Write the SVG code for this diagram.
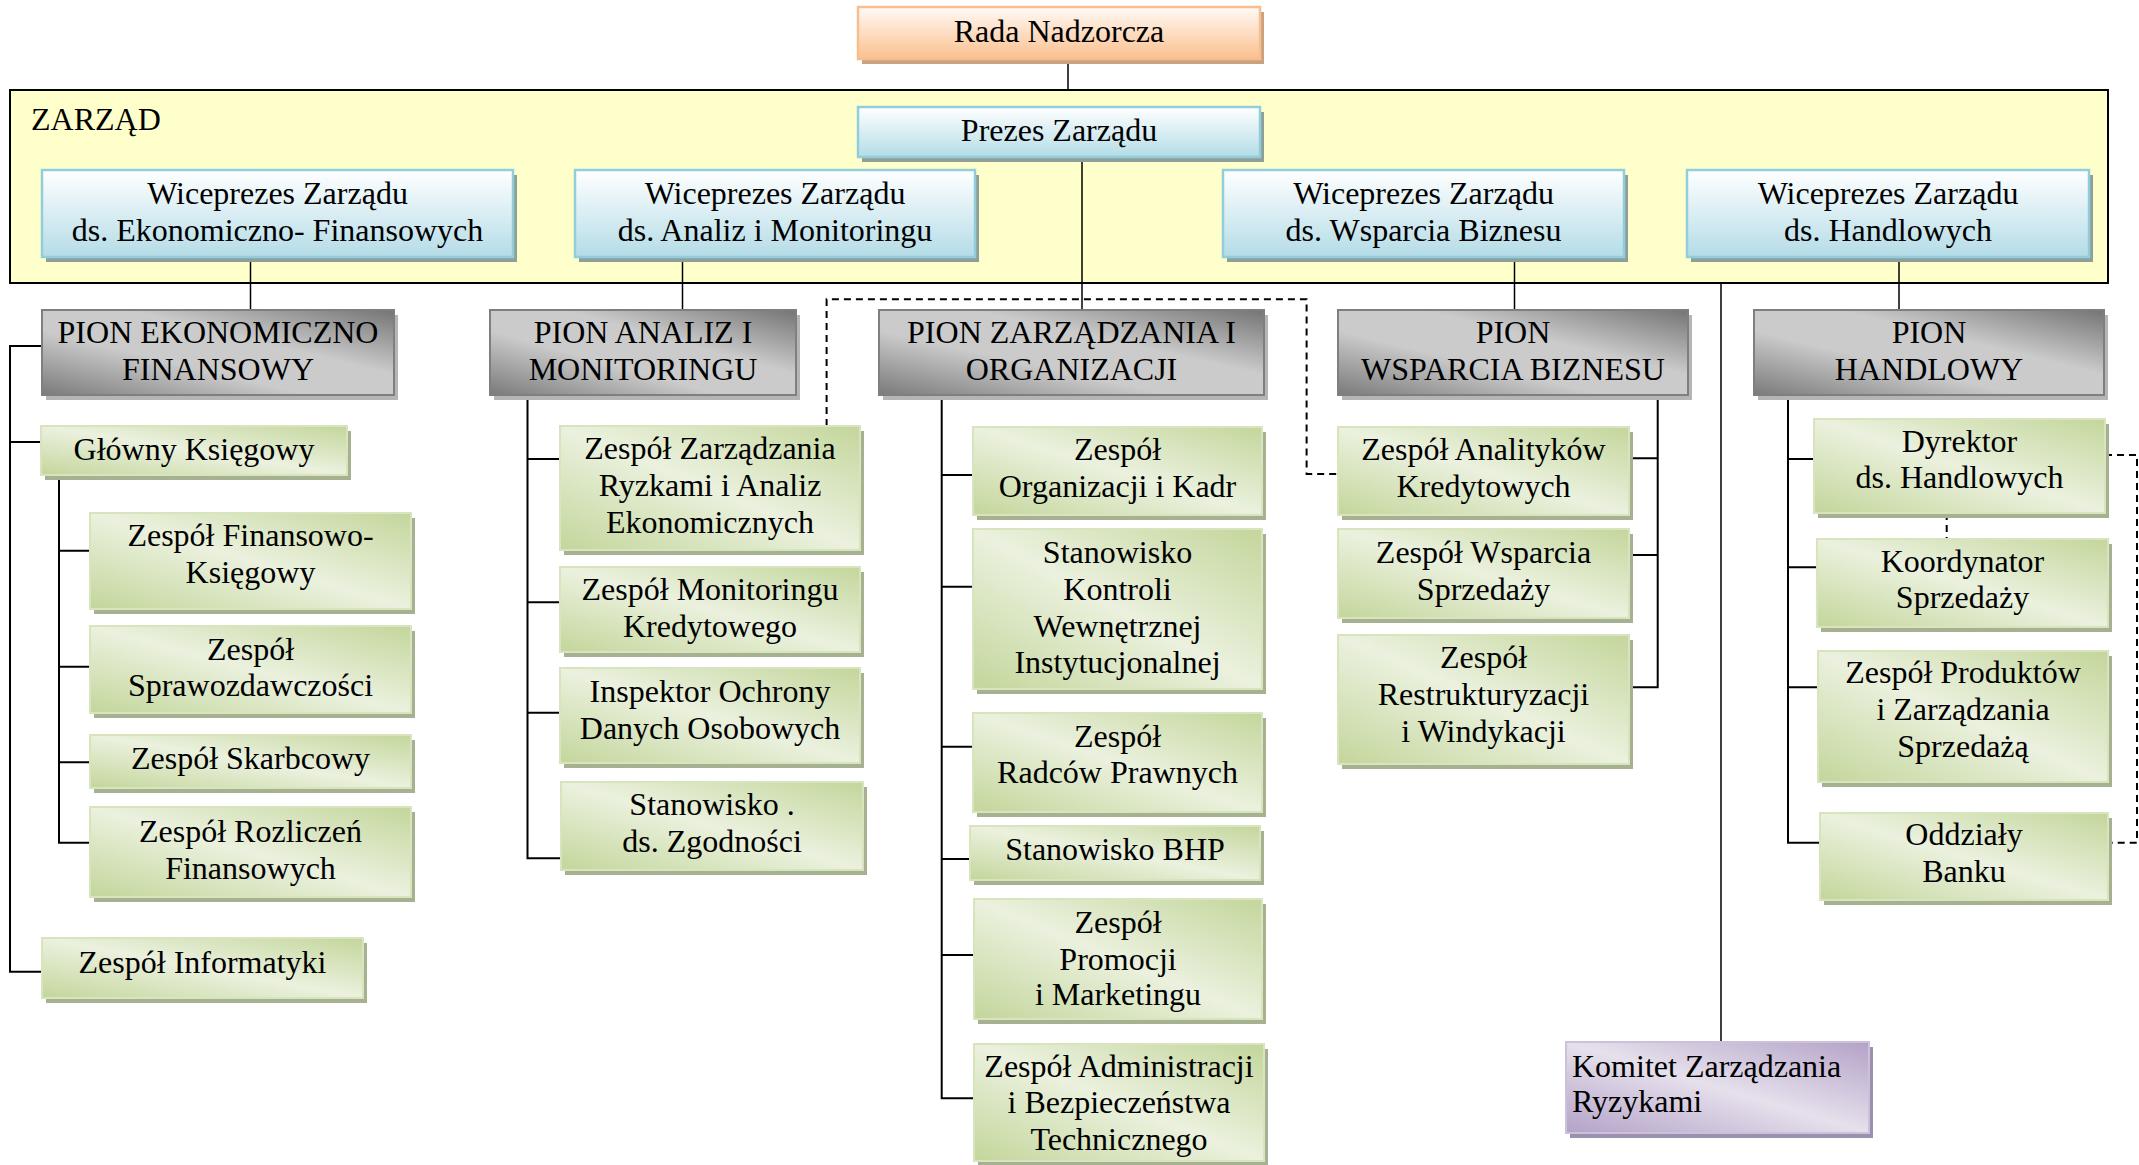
<svg xmlns="http://www.w3.org/2000/svg" width="2139" height="1165" viewBox="0 0 2139 1165">
<defs>
<linearGradient id="gPeach" x1="0" y1="0" x2="0" y2="1"><stop offset="0" stop-color="#fffaf6"/><stop offset="1" stop-color="#fbc08e"/></linearGradient>
<linearGradient id="gBlue" x1="0" y1="0" x2="0" y2="1"><stop offset="0" stop-color="#ffffff"/><stop offset="1" stop-color="#b4dce7"/></linearGradient>
<linearGradient id="gGrey" x1="0" y1="1" x2="1" y2="0"><stop offset="0" stop-color="#7a7a7a"/><stop offset="0.38" stop-color="#cbcbcb"/><stop offset="0.62" stop-color="#cbcbcb"/><stop offset="1" stop-color="#747474"/></linearGradient>
<linearGradient id="gGreen" x1="0" y1="1" x2="1" y2="0"><stop offset="0" stop-color="#c3d69b"/><stop offset="0.5" stop-color="#ebf1de"/><stop offset="1" stop-color="#c3d69b"/></linearGradient>
<linearGradient id="gPurple" x1="0" y1="1" x2="1" y2="0"><stop offset="0" stop-color="#b3a2c7"/><stop offset="0.5" stop-color="#e6e0ec"/><stop offset="1" stop-color="#b3a2c7"/></linearGradient>
</defs>
<style>
text{font-family:"Liberation Serif","Times New Roman",serif;font-size:32px;fill:#000}
.c{text-anchor:middle}
.peach{fill:url(#gPeach);stroke:#f9be90;stroke-width:2.5}
.blue{fill:url(#gBlue);stroke:#92cddc;stroke-width:2.5}
.grey{fill:url(#gGrey);stroke:#7f7f7f;stroke-width:2}
.green{fill:url(#gGreen);stroke:#d7e4bd;stroke-width:2}
.purple{fill:url(#gPurple);stroke:#ccc1da;stroke-width:2}
.shPeach{fill:#c9a27f}
.shBlue{fill:#8e9f9a}
.shGrey{fill:#b5b5b5}
.shGreen{fill:#a6b192}
.shPurple{fill:#9b90ad}
.ln{fill:none;stroke:#000;stroke-width:2}
.thin{fill:none;stroke:#000;stroke-width:1.5}
.dash{fill:none;stroke:#000;stroke-width:2;stroke-dasharray:7 5}
</style>

<g id="zarzad">
<rect x="10" y="90" width="2098" height="193" fill="#ffffcc" stroke="#000" stroke-width="2"/>
<text x="31" y="130">ZARZĄD</text>
</g>

<g id="connectors">
<path class="thin" d="M1068,59 V90"/>
<path class="thin" d="M1082,157 V310"/>
<path class="thin" d="M250.5,262 V310"/>
<path class="thin" d="M682.5,262 V310"/>
<path class="thin" d="M1514.5,262 V310"/>
<path class="thin" d="M1899,262 V310"/>
<path class="thin" d="M1721,283 V1042"/>
<path class="ln" d="M42,346 H10 V971.7 H42 M10,442 H41"/>
<path class="ln" d="M59,475 V842.7 H90 M59,550.7 H90 M59,666.7 H90 M59,762.3 H90"/>
<path class="ln" d="M527.5,395 V858.3 H561 M527.5,459 H560 M527.5,602.3 H560 M527.5,712.7 H560"/>
<path class="ln" d="M941.7,395 V1098.3 H974 M941.7,475 H973 M941.7,586.7 H973 M941.7,746.7 H973 M941.7,859 H970 M941.7,955 H974"/>
<path class="ln" d="M1657.7,395 V687.3 H1629 M1657.7,458.3 H1629 M1657.7,555 H1629"/>
<path class="ln" d="M1788,395 V842.7 H1820 M1788,459 H1814 M1788,567.3 H1817 M1788,687.3 H1818"/>
<path class="dash" d="M826.6,426 V299.3 H1306.6 V474 H1338"/>
<path class="dash" d="M2105,455 H2137 V842.7 H2108"/>
<path class="dash" d="M1946.7,513 V539"/>
</g>

<g id="rada">
<rect class="shPeach" x="862" y="12" width="402" height="52"/>
<rect class="peach" x="858" y="7" width="402" height="52"/>
<text class="c" x="1059" y="42">Rada Nadzorcza</text>
</g>

<g id="prezes">
<rect class="shBlue" x="862" y="112" width="402" height="50"/>
<rect class="blue" x="858" y="107" width="402" height="50"/>
<text class="c" x="1059" y="141">Prezes Zarządu</text>
</g>

<g id="wice1">
<rect class="shBlue" x="46" y="175" width="471" height="87"/>
<rect class="blue" x="42" y="170" width="471" height="87"/>
<text class="c" x="277.5" y="204">Wiceprezes Zarządu</text>
<text class="c" x="277.5" y="241">ds. Ekonomiczno- Finansowych</text>
</g>
<g id="wice2">
<rect class="shBlue" x="579" y="175" width="400" height="87"/>
<rect class="blue" x="575" y="170" width="400" height="87"/>
<text class="c" x="775" y="204">Wiceprezes Zarządu</text>
<text class="c" x="775" y="241">ds. Analiz i Monitoringu</text>
</g>
<g id="wice3">
<rect class="shBlue" x="1227" y="175" width="401" height="87"/>
<rect class="blue" x="1223" y="170" width="401" height="87"/>
<text class="c" x="1423.5" y="204">Wiceprezes Zarządu</text>
<text class="c" x="1423.5" y="241">ds. Wsparcia Biznesu</text>
</g>
<g id="wice4">
<rect class="shBlue" x="1691" y="175" width="402" height="87"/>
<rect class="blue" x="1687" y="170" width="402" height="87"/>
<text class="c" x="1888" y="204">Wiceprezes Zarządu</text>
<text class="c" x="1888" y="241">ds. Handlowych</text>
</g>

<g id="pion-ekon">
<rect class="shGrey" x="46" y="315" width="352" height="85"/>
<rect class="grey" x="42" y="310" width="352" height="85"/>
<text class="c" x="218" y="343">PION EKONOMICZNO</text>
<text class="c" x="218" y="380">FINANSOWY</text>
</g>
<g id="pion-analiz">
<rect class="shGrey" x="494" y="315" width="306" height="85"/>
<rect class="grey" x="490" y="310" width="306" height="85"/>
<text class="c" x="643" y="343">PION ANALIZ I</text>
<text class="c" x="643" y="380">MONITORINGU</text>
</g>
<g id="pion-zarz">
<rect class="shGrey" x="883" y="315" width="385" height="85"/>
<rect class="grey" x="879" y="310" width="385" height="85"/>
<text class="c" x="1071.5" y="343">PION ZARZĄDZANIA I</text>
<text class="c" x="1071.5" y="380">ORGANIZACJI</text>
</g>
<g id="pion-wsp">
<rect class="shGrey" x="1342" y="315" width="350" height="85"/>
<rect class="grey" x="1338" y="310" width="350" height="85"/>
<text class="c" x="1513" y="343">PION</text>
<text class="c" x="1513" y="380">WSPARCIA BIZNESU</text>
</g>
<g id="pion-hand">
<rect class="shGrey" x="1758" y="315" width="350" height="85"/>
<rect class="grey" x="1754" y="310" width="350" height="85"/>
<text class="c" x="1929" y="343">PION</text>
<text class="c" x="1929" y="380">HANDLOWY</text>
</g>

<g id="glowny">
<rect class="shGreen" x="45" y="431" width="306" height="49"/>
<rect class="green" x="41" y="426" width="306" height="49"/>
<text class="c" x="194" y="460">Główny Księgowy</text>
</g>
<g id="fin-ksieg">
<rect class="shGreen" x="94" y="518" width="321" height="96"/>
<rect class="green" x="90" y="513" width="321" height="96"/>
<text class="c" x="250.5" y="546">Zespół Finansowo-</text>
<text class="c" x="250.5" y="583">Księgowy</text>
</g>
<g id="sprawozd">
<rect class="shGreen" x="94" y="631" width="321" height="87"/>
<rect class="green" x="90" y="626" width="321" height="87"/>
<text class="c" x="250.5" y="660">Zespół</text>
<text class="c" x="250.5" y="696">Sprawozdawczości</text>
</g>
<g id="skarbcowy">
<rect class="shGreen" x="94" y="740" width="321" height="53"/>
<rect class="green" x="90" y="735" width="321" height="53"/>
<text class="c" x="250.5" y="769">Zespół Skarbcowy</text>
</g>
<g id="rozliczen">
<rect class="shGreen" x="94" y="812" width="321" height="90"/>
<rect class="green" x="90" y="807" width="321" height="90"/>
<text class="c" x="250.5" y="842">Zespół Rozliczeń</text>
<text class="c" x="250.5" y="879">Finansowych</text>
</g>
<g id="informatyki">
<rect class="shGreen" x="46" y="943" width="321" height="60"/>
<rect class="green" x="42" y="938" width="321" height="60"/>
<text class="c" x="202.5" y="973">Zespół Informatyki</text>
</g>

<g id="ryzkami">
<rect class="shGreen" x="564" y="431" width="300" height="124"/>
<rect class="green" x="560" y="426" width="300" height="124"/>
<text class="c" x="710" y="459">Zespół Zarządzania</text>
<text class="c" x="710" y="496">Ryzkami i Analiz</text>
<text class="c" x="710" y="533">Ekonomicznych</text>
</g>
<g id="monitoringu">
<rect class="shGreen" x="564" y="572" width="300" height="85"/>
<rect class="green" x="560" y="567" width="300" height="85"/>
<text class="c" x="710" y="600">Zespół Monitoringu</text>
<text class="c" x="710" y="637">Kredytowego</text>
</g>
<g id="inspektor">
<rect class="shGreen" x="564" y="673" width="300" height="95"/>
<rect class="green" x="560" y="668" width="300" height="95"/>
<text class="c" x="710" y="702">Inspektor Ochrony</text>
<text class="c" x="710" y="739">Danych Osobowych</text>
</g>
<g id="zgodnosci">
<rect class="shGreen" x="565" y="787" width="302" height="88"/>
<rect class="green" x="561" y="782" width="302" height="88"/>
<text class="c" x="712" y="815">Stanowisko .</text>
<text class="c" x="712" y="852">ds. Zgodności</text>
</g>

<g id="organizacji">
<rect class="shGreen" x="977" y="432" width="289" height="88"/>
<rect class="green" x="973" y="427" width="289" height="88"/>
<text class="c" x="1117.5" y="460">Zespół</text>
<text class="c" x="1117.5" y="497">Organizacji i Kadr</text>
</g>
<g id="kontroli">
<rect class="shGreen" x="977" y="534" width="289" height="160"/>
<rect class="green" x="973" y="529" width="289" height="160"/>
<text class="c" x="1117.5" y="563">Stanowisko</text>
<text class="c" x="1117.5" y="600">Kontroli</text>
<text class="c" x="1117.5" y="637">Wewnętrznej</text>
<text class="c" x="1117.5" y="673">Instytucjonalnej</text>
</g>
<g id="radcow">
<rect class="shGreen" x="977" y="718" width="289" height="99"/>
<rect class="green" x="973" y="713" width="289" height="99"/>
<text class="c" x="1117.5" y="747">Zespół</text>
<text class="c" x="1117.5" y="783">Radców Prawnych</text>
</g>
<g id="bhp">
<rect class="shGreen" x="974" y="831" width="290" height="54"/>
<rect class="green" x="970" y="826" width="290" height="54"/>
<text class="c" x="1115" y="860">Stanowisko BHP</text>
</g>
<g id="promocji">
<rect class="shGreen" x="978" y="904" width="288" height="120"/>
<rect class="green" x="974" y="899" width="288" height="120"/>
<text class="c" x="1118" y="933">Zespół</text>
<text class="c" x="1118" y="970">Promocji</text>
<text class="c" x="1118" y="1005">i Marketingu</text>
</g>
<g id="administracji">
<rect class="shGreen" x="978" y="1049" width="290" height="117"/>
<rect class="green" x="974" y="1044" width="290" height="117"/>
<text class="c" x="1119" y="1077">Zespół Administracji</text>
<text class="c" x="1119" y="1113">i Bezpieczeństwa</text>
<text class="c" x="1119" y="1150">Technicznego</text>
</g>

<g id="analitykow">
<rect class="shGreen" x="1342" y="432" width="291" height="88"/>
<rect class="green" x="1338" y="427" width="291" height="88"/>
<text class="c" x="1483.5" y="460">Zespół Analityków</text>
<text class="c" x="1483.5" y="497">Kredytowych</text>
</g>
<g id="wsparcia-sprzedazy">
<rect class="shGreen" x="1342" y="534" width="291" height="89"/>
<rect class="green" x="1338" y="529" width="291" height="89"/>
<text class="c" x="1483.5" y="563">Zespół Wsparcia</text>
<text class="c" x="1483.5" y="600">Sprzedaży</text>
</g>
<g id="restrukturyzacji">
<rect class="shGreen" x="1342" y="640" width="291" height="129"/>
<rect class="green" x="1338" y="635" width="291" height="129"/>
<text class="c" x="1483.5" y="668">Zespół</text>
<text class="c" x="1483.5" y="705">Restrukturyzacji</text>
<text class="c" x="1483.5" y="742">i Windykacji</text>
</g>

<g id="dyrektor">
<rect class="shGreen" x="1818" y="424" width="291" height="94"/>
<rect class="green" x="1814" y="419" width="291" height="94"/>
<text class="c" x="1959.5" y="452">Dyrektor</text>
<text class="c" x="1959.5" y="488">ds. Handlowych</text>
</g>
<g id="koordynator">
<rect class="shGreen" x="1821" y="544" width="291" height="88"/>
<rect class="green" x="1817" y="539" width="291" height="88"/>
<text class="c" x="1962.5" y="572">Koordynator</text>
<text class="c" x="1962.5" y="608">Sprzedaży</text>
</g>
<g id="produktow">
<rect class="shGreen" x="1822" y="656" width="290" height="131"/>
<rect class="green" x="1818" y="651" width="290" height="131"/>
<text class="c" x="1963" y="683">Zespół Produktów</text>
<text class="c" x="1963" y="720">i Zarządzania</text>
<text class="c" x="1963" y="757">Sprzedażą</text>
</g>
<g id="oddzialy">
<rect class="shGreen" x="1824" y="818" width="288" height="87"/>
<rect class="green" x="1820" y="813" width="288" height="87"/>
<text class="c" x="1964" y="845">Oddziały</text>
<text class="c" x="1964" y="882">Banku</text>
</g>

<g id="komitet">
<rect class="shPurple" x="1570" y="1047" width="303" height="91"/>
<rect class="purple" x="1566" y="1042" width="303" height="91"/>
<text x="1572" y="1077">Komitet Zarządzania</text>
<text x="1572" y="1112">Ryzykami</text>
</g>
</svg>
